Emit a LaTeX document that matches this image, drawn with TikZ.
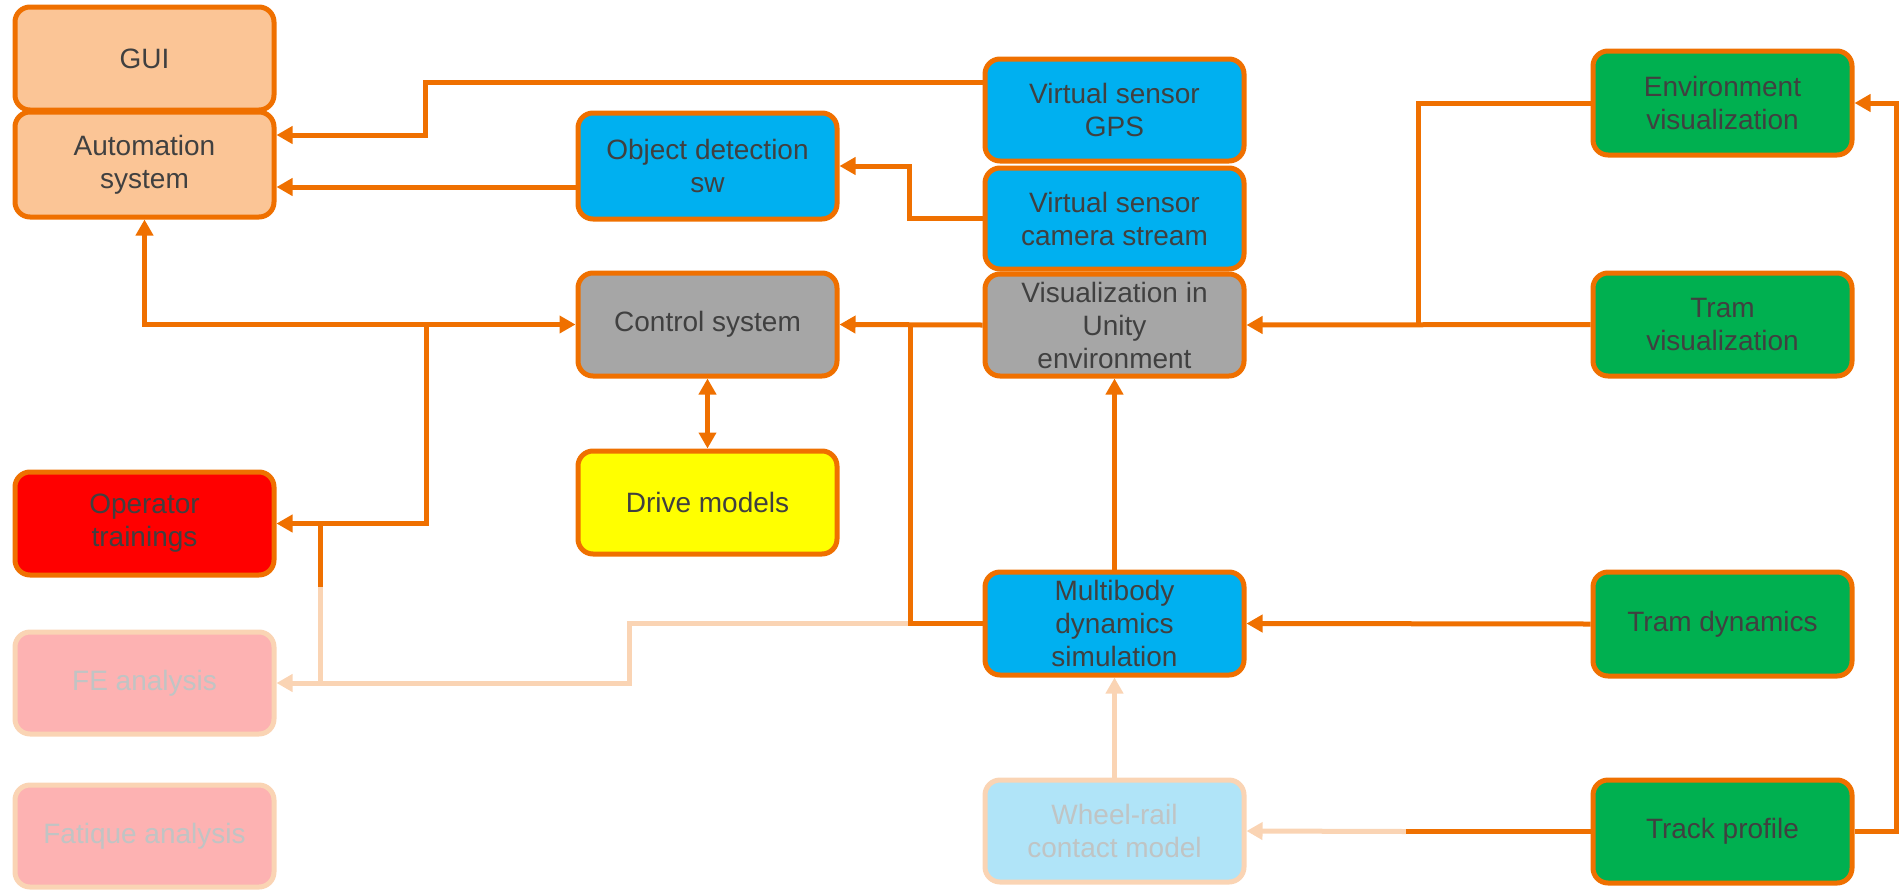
\documentclass[tikz,border=0pt]{standalone}
\usepackage{fontspec}
\setmainfont{Liberation Sans}
\usetikzlibrary{arrows.meta}
\definecolor{ora}{RGB}{239,112,0}
\definecolor{peachfill}{RGB}{251,197,150}
\definecolor{peachline}{RGB}{250,212,180}
\definecolor{bluefill}{RGB}{0,176,240}
\definecolor{grayfill}{RGB}{166,166,166}
\definecolor{greenfill}{RGB}{0,176,80}
\definecolor{redfill}{RGB}{255,0,0}
\definecolor{yellowfill}{RGB}{255,255,0}
\definecolor{pinkfill}{RGB}{253,178,178}
\definecolor{lbluefill}{RGB}{176,228,248}
\definecolor{txt}{RGB}{64,64,64}
\definecolor{fadetxt}{RGB}{192,196,196}
\tikzset{
  box/.style={draw=ora, line width=2.5pt, rounded corners=7.5pt,
    minimum width=129.5pt, minimum height=51.5pt, align=center, text=txt,
    inner sep=0pt, font=\fontsize{14pt}{16.5pt}\selectfont},
  fadebox/.style={box, draw=peachline, text=fadetxt},
  conn/.style={draw=ora, line width=2.5pt},
  arr/.style={conn, -{Triangle[width=8.5pt,length=8pt]}},
  arrb/.style={conn, {Triangle[width=8.5pt,length=8pt]}-{Triangle[width=8.5pt,length=8pt]}},
  fconn/.style={draw=peachline, line width=2.5pt},
  farr/.style={fconn, -{Triangle[width=8.5pt,length=8pt]}},
}
\begin{document}
\begin{tikzpicture}[x=0.5pt,y=-0.5pt]
\useasboundingbox (0,0) rectangle (1900,889);
% nodes
\node[box, fill=peachfill] (gui) at (144.5,58.5) {GUI};
\node[box, fill=peachfill, minimum height=52.5pt] (auto) at (144.5,164.5) {Automation\\system};
\node[box, fill=bluefill, minimum height=53pt] (objdet) at (707.5,166) {Object detection\\sw};
\node[box, fill=bluefill, minimum height=51pt] (gps) at (1114.5,110) {Virtual sensor\\GPS};
\node[box, fill=bluefill, minimum height=50.5pt] (cam) at (1114.5,218.5) {Virtual sensor\\camera stream};
\node[box, fill=grayfill, minimum height=51pt] (unity) at (1114.5,325) {Visualization in\\Unity\\environment};
\node[box, fill=grayfill] (ctrl) at (707.5,324.5) {Control system};
\node[box, fill=greenfill, minimum height=52pt] (env) at (1722.5,103) {Environment\\visualization};
\node[box, fill=greenfill] (tramvis) at (1722.5,324.5) {Tram\\visualization};
\node[box, fill=redfill] (oper) at (144.5,523.5) {Operator\\trainings};
\node[box, fill=yellowfill] (drive) at (707.5,502.5) {Drive models};
\node[fadebox, fill=pinkfill, minimum height=51pt] (fe) at (144.5,683) {FE analysis};
\node[fadebox, fill=pinkfill, minimum height=51pt] (fat) at (144.5,836) {Fatique analysis};
\node[box, fill=bluefill] (multi) at (1114.5,623.5) {Multibody\\dynamics\\simulation};
\node[box, fill=greenfill, minimum height=52pt] (tramdyn) at (1722.5,624) {Tram dynamics};
\node[fadebox, fill=lbluefill, minimum height=51pt] (wheel) at (1114.5,831) {Wheel-rail\\contact model};
\node[box, fill=greenfill] (track) at (1722.5,831.5) {Track profile};
% routing coordinates
\coordinate (gpsy) at (0,82);
\coordinate (k1) at (425,135);
\coordinate (ody) at (0,187);
\coordinate (j1) at (426,325);
\coordinate (j2) at (320,523);
\coordinate (j3) at (320,587);
\coordinate (j4) at (320,683);
\coordinate (j5) at (910,325);
\coordinate (k2) at (909,166);
\coordinate (j6) at (1418,325);
\coordinate (k3) at (1896,831.5);
\coordinate (j7) at (1406,831.5);
\coordinate (k4) at (629,683);
\coordinate (j8) at (910,623.5);
% faded connectors
\draw[fconn] (j3) -- (j4);
\draw[farr] (j8) -| (k4) -- (fe.east);
\draw[farr] (wheel.north) -- (multi.south);
\draw[farr] (j7) -- (wheel.east);
% connectors
\draw[arr] (gps.west |- gpsy) -| (k1) -- (auto.east |- k1);
\draw[arr] (objdet.west |- ody) -- (auto.east |- ody);
\draw[arrb] (auto.south) |- (ctrl.west);
\draw[arr] (j1) |- (oper.east);
\draw[conn] (j2) -- (j3);
\draw[arr] (unity.west) -- (ctrl.east);
\draw[conn] (j5) |- (multi.west);
\draw[arr] (cam.west) -| (k2) -- (objdet.east);
\draw[arrb] (ctrl.south) -- (drive.north);
\draw[conn] (env.west) -| (j6);
\draw[arr] (tramvis.west) -- (unity.east);
\draw[arr] (track.east) -- (k3) |- (env.east);
\draw[arr] (tramdyn.west) -- (multi.east);
\draw[arr] (multi.north) -- (unity.south);
\draw[conn] (track.west) -- (j7);
\end{tikzpicture}
\end{document}
